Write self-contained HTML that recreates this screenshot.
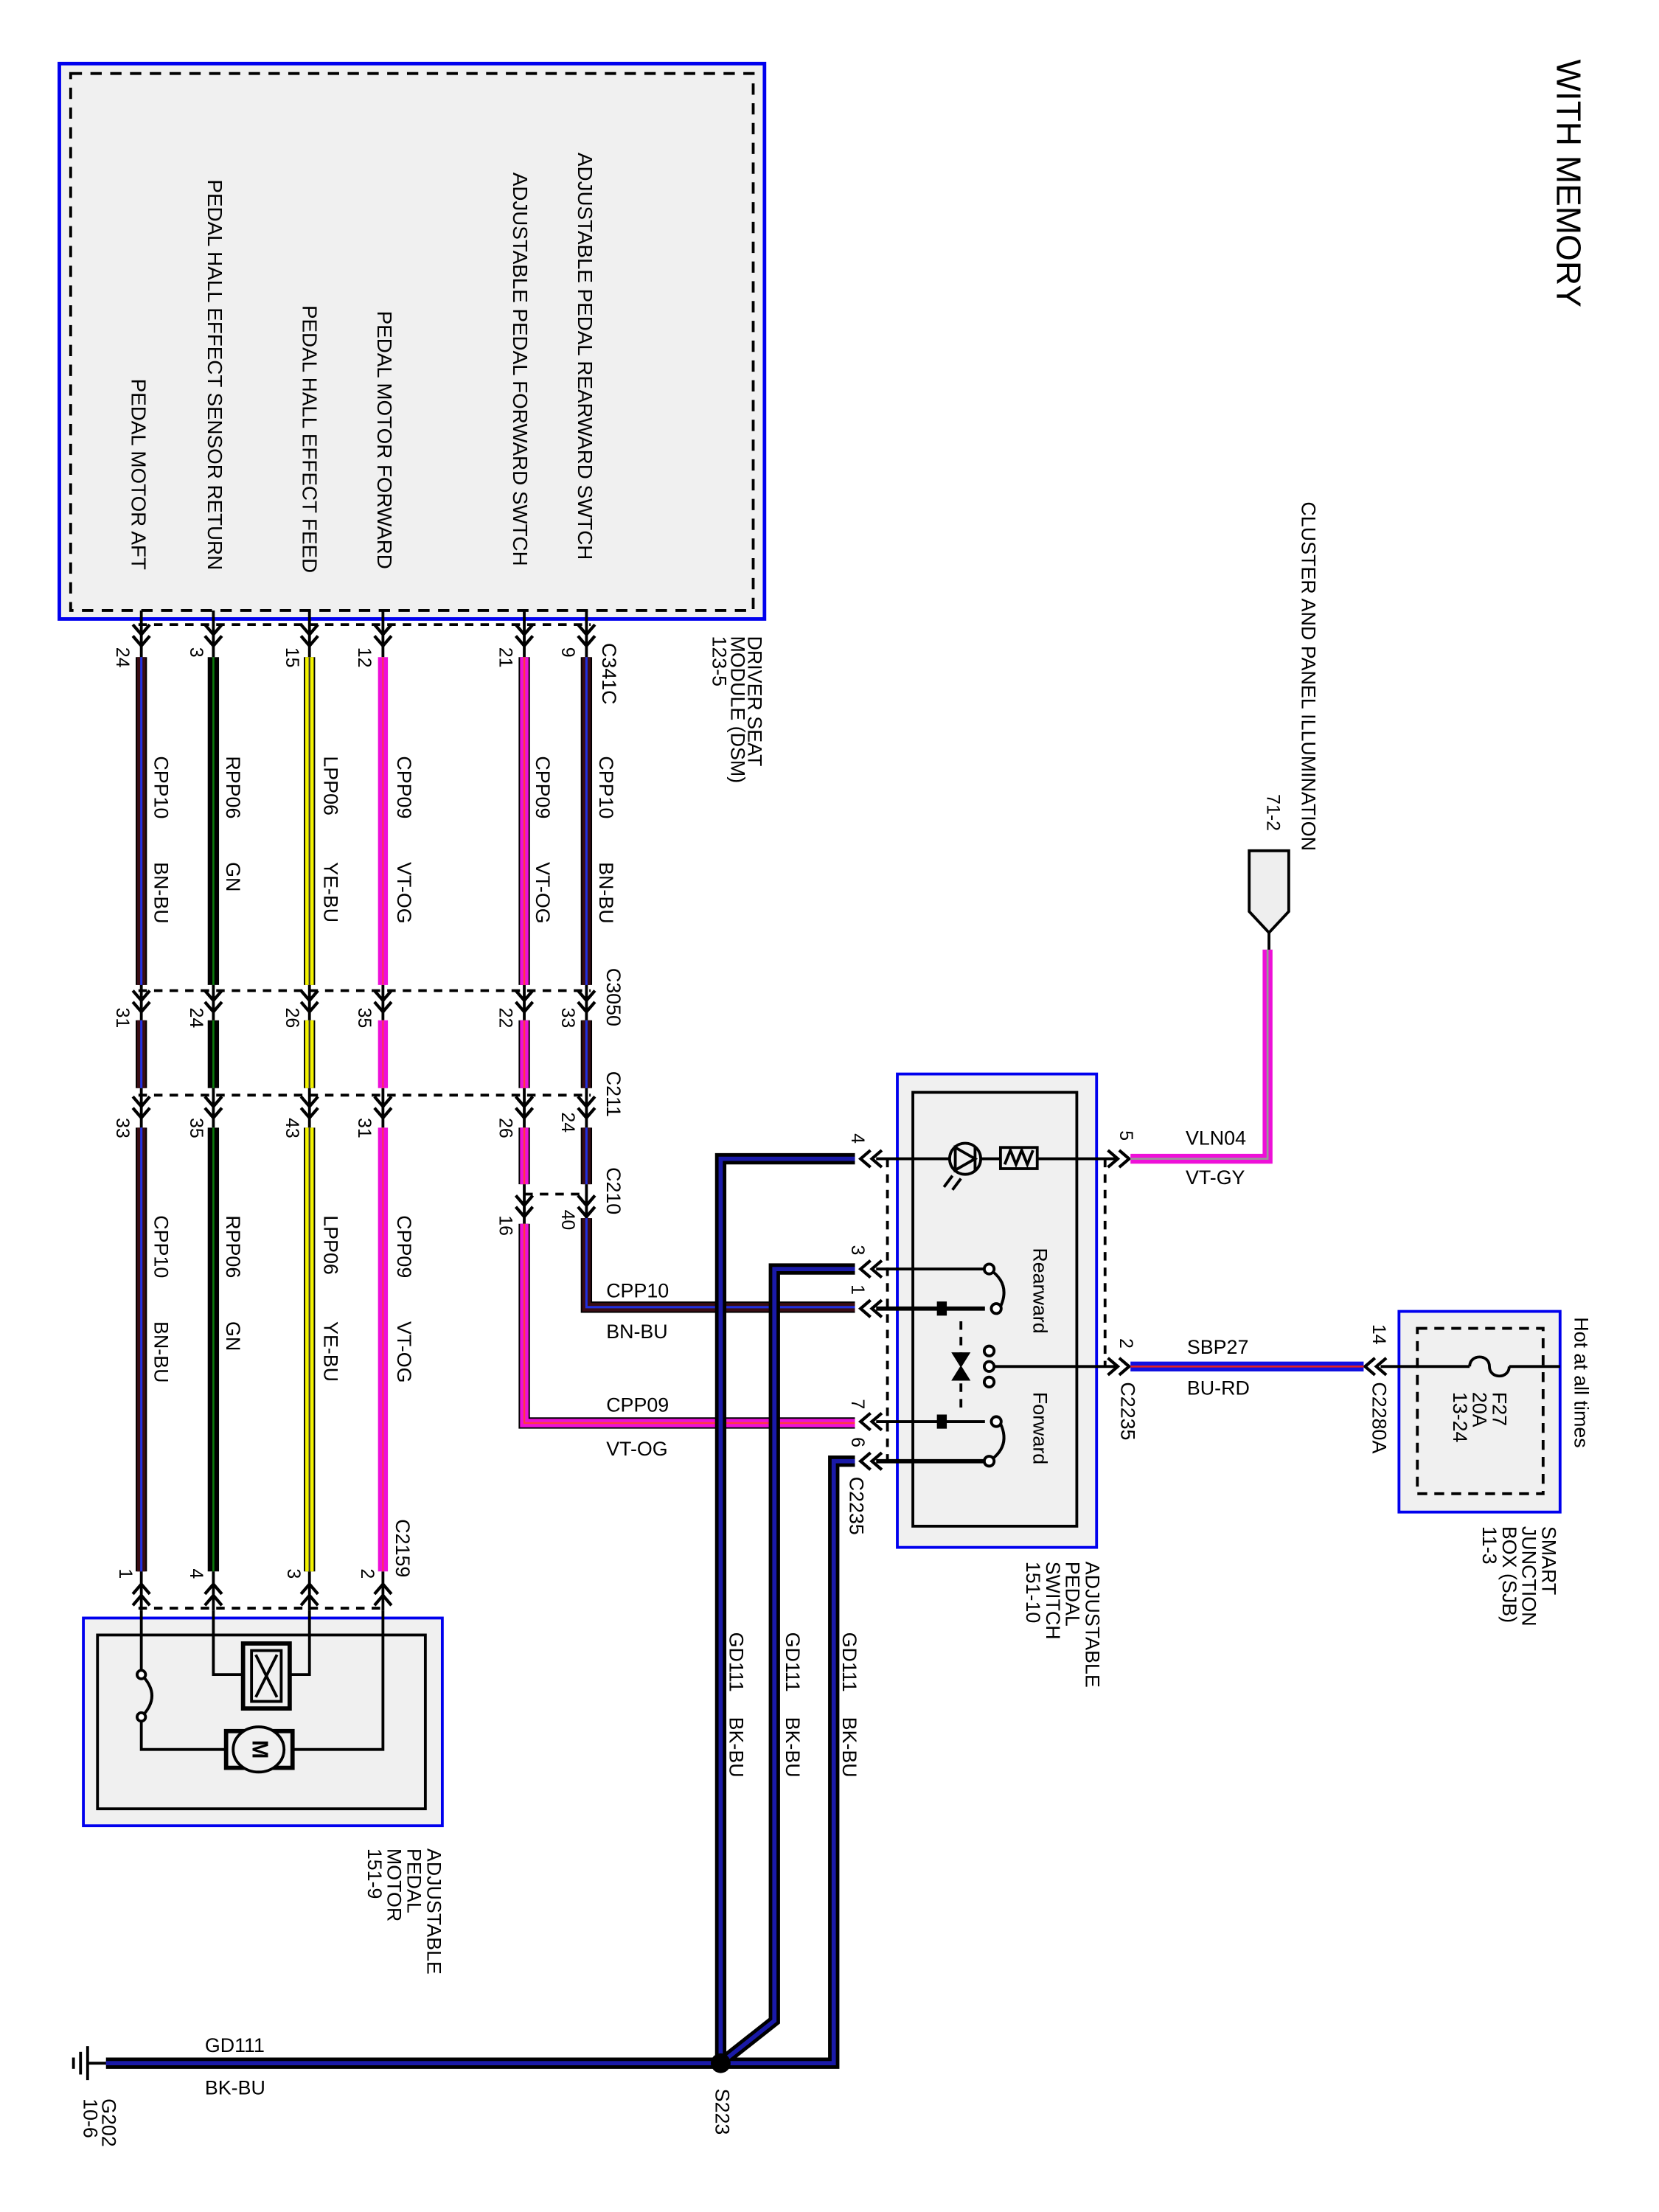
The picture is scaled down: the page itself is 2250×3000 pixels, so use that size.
<!DOCTYPE html>
<html><head><meta charset="utf-8"><style>html,body{margin:0;padding:0;background:#fff}svg{display:block}text{font-family:"Liberation Sans",sans-serif;fill:#000}</style></head>
<body>
<svg width="2250" height="3000" viewBox="0 0 1174 1565.3" xmlns="http://www.w3.org/2000/svg">
<defs>
<g id="cd"><path d="M-6,-4 L0,3 L6,-4 M-6,4 L0,11 L6,4" fill="none" stroke="#000" stroke-width="2.2"/></g>
<g id="cu"><path d="M-6,4 L0,-3 L6,4 M-6,-4 L0,-11 L6,-4" fill="none" stroke="#000" stroke-width="2.2"/></g>
<g id="cl"><path d="M4,-6 L-3,0 L4,6 M-4,-6 L-11,0 L-4,6" fill="none" stroke="#000" stroke-width="2.2"/></g>
<g id="cr"><path d="M-4,-6 L3,0 L-4,6 M4,-6 L11,0 L4,6" fill="none" stroke="#000" stroke-width="2.2"/></g>
</defs>

<text transform="translate(1108,42) rotate(90)" style="font-size:24px" dominant-baseline="middle">WITH MEMORY</text>

<!-- DSM box -->
<rect x="42" y="45" width="499" height="393" fill="#f0f0f0" stroke="#0000ee" stroke-width="2.5"/>
<rect x="50" y="52" width="483" height="380" fill="none" stroke="#000" stroke-width="2" stroke-dasharray="8,6"/>
<g font-size="14.5">
<text transform="translate(413,108) rotate(90)" dominant-baseline="middle">ADJUSTABLE PEDAL REARWARD SWTCH</text>
<text transform="translate(367,122) rotate(90)" dominant-baseline="middle">ADJUSTABLE PEDAL FORWARD SWTCH</text>
<text transform="translate(271,220) rotate(90)" dominant-baseline="middle">PEDAL MOTOR FORWARD</text>
<text transform="translate(218,216) rotate(90)" dominant-baseline="middle">PEDAL HALL EFFECT FEED</text>
<text transform="translate(151,127) rotate(90)" dominant-baseline="middle">PEDAL HALL EFFECT SENSOR RETURN</text>
<text transform="translate(97,268) rotate(90)" dominant-baseline="middle">PEDAL MOTOR AFT</text>
</g>
<g font-size="14">
<text transform="translate(533,450) rotate(90)" dominant-baseline="middle">DRIVER SEAT</text>
<text transform="translate(521,450) rotate(90)" dominant-baseline="middle">MODULE (DSM)</text>
<text transform="translate(508,450) rotate(90)" dominant-baseline="middle">123-5</text>
</g>

<g stroke="#000" stroke-width="2" stroke-dasharray="6,5" fill="none">
<line x1="98" y1="442" x2="418" y2="442"/>
<line x1="98" y1="701" x2="418" y2="701"/>
<line x1="98" y1="775" x2="418" y2="775"/>
<line x1="371" y1="845" x2="415" y2="845"/>
<line x1="98" y1="1138" x2="272" y2="1138"/>
<line x1="628" y1="820" x2="628" y2="1034"/>
<line x1="782" y1="820" x2="782" y2="967"/>
</g>

<g stroke="#000" stroke-width="2">
<line x1="100" y1="432" x2="100" y2="465"/><line x1="151" y1="432" x2="151" y2="465"/>
<line x1="219" y1="432" x2="219" y2="465"/><line x1="271" y1="432" x2="271" y2="465"/>
<line x1="371" y1="432" x2="371" y2="465"/><line x1="415" y1="432" x2="415" y2="465"/>
<line x1="100" y1="697" x2="100" y2="722"/><line x1="151" y1="697" x2="151" y2="722"/>
<line x1="219" y1="697" x2="219" y2="722"/><line x1="271" y1="697" x2="271" y2="722"/>
<line x1="371" y1="697" x2="371" y2="722"/><line x1="415" y1="697" x2="415" y2="722"/>
<line x1="100" y1="770" x2="100" y2="798"/><line x1="151" y1="770" x2="151" y2="798"/>
<line x1="219" y1="770" x2="219" y2="798"/><line x1="271" y1="770" x2="271" y2="798"/>
<line x1="371" y1="770" x2="371" y2="798"/><line x1="415" y1="770" x2="415" y2="798"/>
<line x1="371" y1="838" x2="371" y2="866"/><line x1="415" y1="838" x2="415" y2="862"/>
<line x1="100" y1="1112" x2="100" y2="1140"/><line x1="151" y1="1112" x2="151" y2="1140"/>
<line x1="219" y1="1112" x2="219" y2="1140"/><line x1="271" y1="1112" x2="271" y2="1140"/>
</g>
<g>
<use href="#cd" x="100" y="446"/><use href="#cd" x="151" y="446"/><use href="#cd" x="219" y="446"/><use href="#cd" x="271" y="446"/><use href="#cd" x="371" y="446"/><use href="#cd" x="415" y="446"/>
<use href="#cd" x="100" y="705"/><use href="#cd" x="151" y="705"/><use href="#cd" x="219" y="705"/><use href="#cd" x="271" y="705"/><use href="#cd" x="371" y="705"/><use href="#cd" x="415" y="705"/>
<use href="#cd" x="100" y="780"/><use href="#cd" x="151" y="780"/><use href="#cd" x="219" y="780"/><use href="#cd" x="271" y="780"/><use href="#cd" x="371" y="780"/><use href="#cd" x="415" y="780"/>
<use href="#cd" x="371" y="850"/><use href="#cd" x="415" y="850"/>
<use href="#cu" x="100" y="1132"/><use href="#cu" x="151" y="1132"/><use href="#cu" x="219" y="1132"/><use href="#cu" x="271" y="1132"/>
<use href="#cl" x="620" y="820"/><use href="#cl" x="620" y="898"/><use href="#cl" x="620" y="926"/><use href="#cl" x="620" y="1006"/><use href="#cl" x="620" y="1034"/>
<use href="#cr" x="788" y="820"/><use href="#cr" x="788" y="967"/><use href="#cl" x="977" y="967"/>
</g>

<g fill="none" stroke-linejoin="miter">
<g><path d="M100,465V697M100,722V770M100,798V1112" stroke="#000" stroke-width="8"/><path d="M100,465V697M100,722V770M100,798V1112" stroke="#3a0d14" stroke-width="6"/><path d="M100,465V697M100,722V770M100,798V1112" stroke="#2030e0" stroke-width="1.6"/></g>
<g><path d="M151,465V697M151,722V770M151,798V1112" stroke="#000" stroke-width="8"/><path d="M151,465V697M151,722V770M151,798V1112" stroke="#0a7a0a" stroke-width="1.4"/></g>
<g><path d="M219,465V697M219,722V770M219,798V1112" stroke="#000" stroke-width="8"/><path d="M219,465V697M219,722V770M219,798V1112" stroke="#f2f200" stroke-width="6"/><path d="M219,465V697M219,722V770M219,798V1112" stroke="#333" stroke-width="1.2"/></g>
<g><path d="M271,465V697M271,722V770M271,798V1112" stroke="#ee10d8" stroke-width="7"/><path d="M271,465V697M271,722V770M271,798V1112" stroke="#ff3060" stroke-width="1.2"/></g>
<g><path d="M371,465V697M371,722V770M371,798V838M371,866V1007H605" stroke="#000" stroke-width="8"/><path d="M371,465V697M371,722V770M371,798V838M371,866V1007H605" stroke="#ee10d8" stroke-width="6"/><path d="M371,465V697M371,722V770M371,798V838M371,866V1007H605" stroke="#ff3a40" stroke-width="1.3"/></g>
<g><path d="M415,465V697M415,722V770M415,798V838M415,862V925H605" stroke="#000" stroke-width="8"/><path d="M415,465V697M415,722V770M415,798V838M415,862V925H605" stroke="#3a0d14" stroke-width="6"/><path d="M415,465V697M415,722V770M415,798V838M415,862V925H605" stroke="#2030e0" stroke-width="1.6"/></g>
<g><path d="M605,820H510V1460M605,898H548V1430L510,1460M605,1034H590V1460H510M510,1460H75" stroke="#000" stroke-width="8"/><path d="M605,820H510V1460M605,898H548V1430L510,1460M605,1034H590V1460H510M510,1460H75" stroke="#1a1aa8" stroke-width="3"/></g>
<g><path d="M800,820H897V672" stroke="#ee10d8" stroke-width="7"/><path d="M800,820H897V672" stroke="#999" stroke-width="1.4"/></g>
<g><path d="M800,967H965" stroke="#1010e0" stroke-width="7"/><path d="M800,967H965" stroke="#e02020" stroke-width="1.4"/></g>
</g>

<g font-size="13">
<text transform="translate(86,458) rotate(90)" dominant-baseline="middle">24</text>
<text transform="translate(138,458) rotate(90)" dominant-baseline="middle">3</text>
<text transform="translate(206,458) rotate(90)" dominant-baseline="middle">15</text>
<text transform="translate(257,458) rotate(90)" dominant-baseline="middle">12</text>
<text transform="translate(357,458) rotate(90)" dominant-baseline="middle">21</text>
<text transform="translate(401,458) rotate(90)" dominant-baseline="middle">9</text>
<text transform="translate(86,713) rotate(90)" dominant-baseline="middle">31</text>
<text transform="translate(138,713) rotate(90)" dominant-baseline="middle">24</text>
<text transform="translate(206,713) rotate(90)" dominant-baseline="middle">26</text>
<text transform="translate(257,713) rotate(90)" dominant-baseline="middle">35</text>
<text transform="translate(357,713) rotate(90)" dominant-baseline="middle">22</text>
<text transform="translate(401,713) rotate(90)" dominant-baseline="middle">33</text>
<text transform="translate(86,791) rotate(90)" dominant-baseline="middle">33</text>
<text transform="translate(138,791) rotate(90)" dominant-baseline="middle">35</text>
<text transform="translate(206,791) rotate(90)" dominant-baseline="middle">43</text>
<text transform="translate(257,791) rotate(90)" dominant-baseline="middle">31</text>
<text transform="translate(357,791) rotate(90)" dominant-baseline="middle">26</text>
<text transform="translate(401,787) rotate(90)" dominant-baseline="middle">24</text>
<text transform="translate(357,860) rotate(90)" dominant-baseline="middle">16</text>
<text transform="translate(401,856) rotate(90)" dominant-baseline="middle">40</text>
<text transform="translate(88,1110) rotate(90)" dominant-baseline="middle">1</text>
<text transform="translate(138,1110) rotate(90)" dominant-baseline="middle">4</text>
<text transform="translate(207,1110) rotate(90)" dominant-baseline="middle">3</text>
<text transform="translate(259,1110) rotate(90)" dominant-baseline="middle">2</text>
<text transform="translate(606,802) rotate(90)" dominant-baseline="middle">4</text>
<text transform="translate(606,881) rotate(90)" dominant-baseline="middle">3</text>
<text transform="translate(606,909) rotate(90)" dominant-baseline="middle">1</text>
<text transform="translate(606,990) rotate(90)" dominant-baseline="middle">7</text>
<text transform="translate(606,1017) rotate(90)" dominant-baseline="middle">6</text>
<text transform="translate(796,800) rotate(90)" dominant-baseline="middle">5</text>
<text transform="translate(796,947) rotate(90)" dominant-baseline="middle">2</text>
<text transform="translate(975,937) rotate(90)" dominant-baseline="middle">14</text>
<text transform="translate(900,562) rotate(90)" dominant-baseline="middle">71-2</text>
</g>
<g font-size="14">
<text transform="translate(430,455) rotate(90)" dominant-baseline="middle">C341C</text>
<text transform="translate(433,685) rotate(90)" dominant-baseline="middle">C3050</text>
<text transform="translate(433,758) rotate(90)" dominant-baseline="middle">C211</text>
<text transform="translate(433,826) rotate(90)" dominant-baseline="middle">C210</text>
<text transform="translate(284,1075) rotate(90)" dominant-baseline="middle">C2159</text>
<text transform="translate(797,978) rotate(90)" dominant-baseline="middle">C2235</text>
<text transform="translate(605,1045) rotate(90)" dominant-baseline="middle">C2235</text>
<text transform="translate(975,978) rotate(90)" dominant-baseline="middle">C2280A</text>
<text transform="translate(510,1478) rotate(90)" dominant-baseline="middle">S223</text>
<text transform="translate(76,1485) rotate(90)" dominant-baseline="middle">G202</text>
<text transform="translate(63,1485) rotate(90)" dominant-baseline="middle">10-6</text>
</g>
<g font-size="14">
<text transform="translate(113,535) rotate(90)" dominant-baseline="middle">CPP10</text><text transform="translate(113,610) rotate(90)" dominant-baseline="middle">BN-BU</text>
<text transform="translate(164,535) rotate(90)" dominant-baseline="middle">RPP06</text><text transform="translate(164,610) rotate(90)" dominant-baseline="middle">GN</text>
<text transform="translate(233,535) rotate(90)" dominant-baseline="middle">LPP06</text><text transform="translate(233,610) rotate(90)" dominant-baseline="middle">YE-BU</text>
<text transform="translate(285,535) rotate(90)" dominant-baseline="middle">CPP09</text><text transform="translate(285,610) rotate(90)" dominant-baseline="middle">VT-OG</text>
<text transform="translate(383,535) rotate(90)" dominant-baseline="middle">CPP09</text><text transform="translate(383,610) rotate(90)" dominant-baseline="middle">VT-OG</text>
<text transform="translate(428,535) rotate(90)" dominant-baseline="middle">CPP10</text><text transform="translate(428,610) rotate(90)" dominant-baseline="middle">BN-BU</text>
<text transform="translate(113,860) rotate(90)" dominant-baseline="middle">CPP10</text><text transform="translate(113,935) rotate(90)" dominant-baseline="middle">BN-BU</text>
<text transform="translate(164,860) rotate(90)" dominant-baseline="middle">RPP06</text><text transform="translate(164,935) rotate(90)" dominant-baseline="middle">GN</text>
<text transform="translate(233,860) rotate(90)" dominant-baseline="middle">LPP06</text><text transform="translate(233,935) rotate(90)" dominant-baseline="middle">YE-BU</text>
<text transform="translate(285,860) rotate(90)" dominant-baseline="middle">CPP09</text><text transform="translate(285,935) rotate(90)" dominant-baseline="middle">VT-OG</text>
<text transform="translate(520,1155) rotate(90)" dominant-baseline="middle">GD111</text><text transform="translate(520,1215) rotate(90)" dominant-baseline="middle">BK-BU</text>
<text transform="translate(560,1155) rotate(90)" dominant-baseline="middle">GD111</text><text transform="translate(560,1215) rotate(90)" dominant-baseline="middle">BK-BU</text>
<text transform="translate(600,1155) rotate(90)" dominant-baseline="middle">GD111</text><text transform="translate(600,1215) rotate(90)" dominant-baseline="middle">BK-BU</text>
<text transform="translate(925,355) rotate(90)" dominant-baseline="middle">CLUSTER AND PANEL ILLUMINATION</text>
<text transform="translate(1118,932) rotate(90)" dominant-baseline="middle">Hot at all times</text>
</g>
<g font-size="14">
<text x="429" y="918">CPP10</text><text x="429" y="947">BN-BU</text>
<text x="429" y="999">CPP09</text><text x="429" y="1030">VT-OG</text>
<text x="145" y="1452">GD111</text><text x="145" y="1482">BK-BU</text>
<text x="839" y="810">VLN04</text><text x="839" y="838">VT-GY</text>
<text x="840" y="958">SBP27</text><text x="840" y="987">BU-RD</text>
</g>

<circle cx="510" cy="1460" r="7" fill="#000"/>
<g stroke="#000" stroke-width="2"><line x1="62" y1="1448" x2="62" y2="1472"/><line x1="57" y1="1452" x2="57" y2="1468"/><line x1="52" y1="1456" x2="52" y2="1464"/><line x1="62" y1="1460" x2="75" y2="1460"/></g>

<path d="M884,602H912V645L898,660L884,645Z" fill="#eee" stroke="#000" stroke-width="2"/>
<line x1="898" y1="660" x2="898" y2="672" stroke="#000" stroke-width="2"/>

<rect x="635" y="760" width="141" height="335" fill="#f0f0f0" stroke="#0000ee" stroke-width="2"/>
<rect x="646" y="773" width="116" height="307" fill="none" stroke="#000" stroke-width="2"/>
<g stroke="#000" stroke-width="2" fill="none">
<line x1="620" y1="820" x2="790" y2="820"/>
<circle cx="683" cy="820" r="11" fill="#f0f0f0"/>
<path d="M676,812 L690,820 L676,828 Z M690,812 V828"/>
<path d="M674,832 L668,840 M680,834 L674,842" />
<rect x="708" y="812" width="26" height="15" fill="#f0f0f0"/>
<path d="M711,824 L715,814 L719,824 L723,814 L727,824 L731,814"/>
<line x1="620" y1="898" x2="697" y2="898"/>
<line x1="620" y1="926" x2="697" y2="926" stroke-width="3"/>
<line x1="620" y1="1006" x2="697" y2="1006"/>
<line x1="620" y1="1034" x2="697" y2="1034" stroke-width="3"/>
<line x1="700" y1="967" x2="790" y2="967"/>
<path d="M700,898 Q718,910 705,930"/>
<path d="M700,1034 Q718,1022 705,1002"/>
<line x1="680" y1="935" x2="680" y2="998" stroke-dasharray="6,5"/>
<circle cx="700" cy="898" r="3.5" fill="#fff"/><circle cx="705" cy="926" r="3.5" fill="#fff"/>
<circle cx="700" cy="1034" r="3.5" fill="#fff"/><circle cx="705" cy="1006" r="3.5" fill="#fff"/>
<circle cx="700" cy="956" r="3.5" fill="#fff"/><circle cx="700" cy="967" r="3.5" fill="#fff"/><circle cx="700" cy="978" r="3.5" fill="#fff"/>
<path d="M675,958 L685,958 L680,966 Z M675,976 L685,976 L680,968 Z" fill="#000"/>
<rect x="664" y="922" width="5" height="8" fill="#000"/><rect x="664" y="1002" width="5" height="8" fill="#000"/>
</g>
<g font-size="14">
<text transform="translate(735,883) rotate(90)" dominant-baseline="middle">Rearward</text>
<text transform="translate(735,985) rotate(90)" dominant-baseline="middle">Forward</text>
<text transform="translate(772,1105) rotate(90)" dominant-baseline="middle">ADJUSTABLE</text>
<text transform="translate(758,1105) rotate(90)" dominant-baseline="middle">PEDAL</text>
<text transform="translate(744,1105) rotate(90)" dominant-baseline="middle">SWITCH</text>
<text transform="translate(730,1105) rotate(90)" dominant-baseline="middle">151-10</text>
</g>

<rect x="990" y="928" width="114" height="142" fill="#f0f0f0" stroke="#0000ee" stroke-width="2"/>
<rect x="1003" y="940" width="89" height="117" fill="none" stroke="#000" stroke-width="2" stroke-dasharray="7,5"/>
<g stroke="#000" stroke-width="2" fill="none"><line x1="977" y1="967" x2="1040" y2="967"/><path d="M1040,967 C1040,958 1054,958 1054,967 C1054,976 1068,976 1068,967"/><line x1="1068" y1="967" x2="1104" y2="967"/></g>
<g font-size="14">
<text transform="translate(1060,985) rotate(90)" dominant-baseline="middle">F27</text>
<text transform="translate(1046,985) rotate(90)" dominant-baseline="middle">20A</text>
<text transform="translate(1032,985) rotate(90)" dominant-baseline="middle">13-24</text>
<text transform="translate(1095,1080) rotate(90)" dominant-baseline="middle">SMART</text>
<text transform="translate(1081,1080) rotate(90)" dominant-baseline="middle">JUNCTION</text>
<text transform="translate(1067,1080) rotate(90)" dominant-baseline="middle">BOX (SJB)</text>
<text transform="translate(1053,1080) rotate(90)" dominant-baseline="middle">11-3</text>
</g>

<rect x="59" y="1145" width="254" height="147" fill="#f0f0f0" stroke="#0000ee" stroke-width="2"/>
<rect x="69" y="1157" width="232" height="123" fill="none" stroke="#000" stroke-width="2"/>
<g stroke="#000" stroke-width="2" fill="none">
<path d="M100,1140V1185M100,1215V1238H160M271,1140V1238H207M151,1140V1185H172M219,1140V1185H205"/>
<path d="M100,1185 Q115,1200 100,1215"/>
<circle cx="100" cy="1185" r="3" fill="#fff"/><circle cx="100" cy="1215" r="3" fill="#fff"/>
<rect x="172" y="1163" width="33" height="46" stroke-width="3"/>
<rect x="178" y="1168" width="21" height="36"/>
<path d="M181,1171 L196,1201 M196,1171 L181,1201"/>
<rect x="160" y="1225" width="47" height="26" stroke-width="3"/>
<ellipse cx="183" cy="1238" rx="18" ry="16" fill="#f0f0f0"/>
</g>
<text transform="translate(183,1238) rotate(90)" font-size="16" font-weight="bold" text-anchor="middle" dominant-baseline="middle">M</text>
<g font-size="14">
<text transform="translate(306,1308) rotate(90)" dominant-baseline="middle">ADJUSTABLE</text>
<text transform="translate(292,1308) rotate(90)" dominant-baseline="middle">PEDAL</text>
<text transform="translate(278,1308) rotate(90)" dominant-baseline="middle">MOTOR</text>
<text transform="translate(264,1308) rotate(90)" dominant-baseline="middle">151-9</text>
</g>
</svg>
</body></html>
